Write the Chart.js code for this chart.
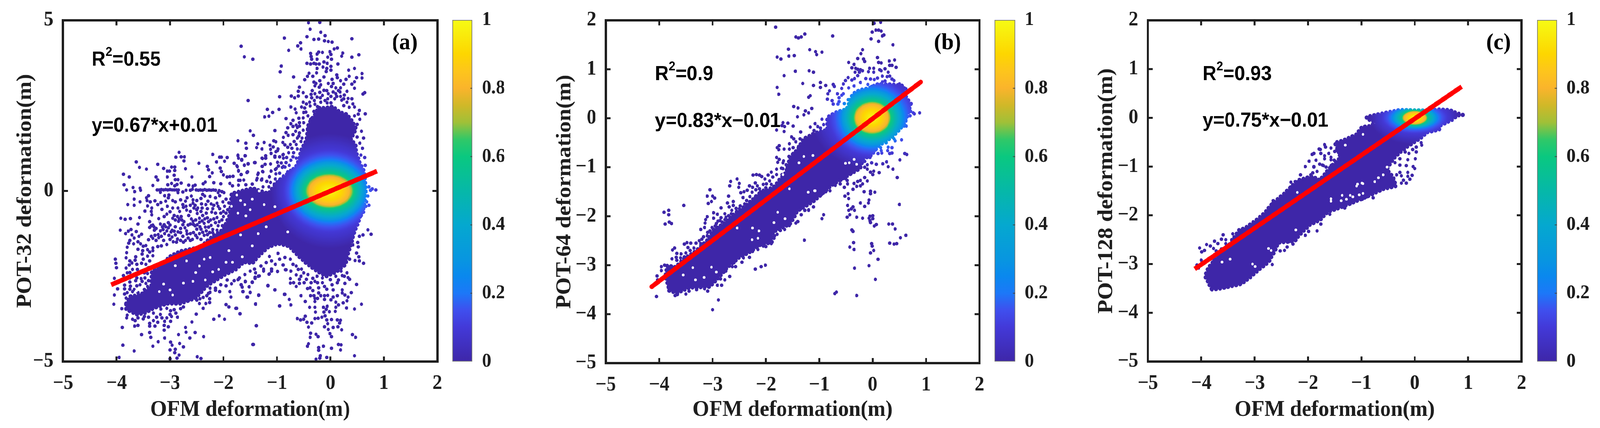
<!DOCTYPE html>
<html>
<head>
<meta charset="utf-8">
<title>POT vs OFM deformation</title>
<script src="https://cdn.jsdelivr.net/npm/chart.js@4"></script>
<style>
  html, body { margin: 0; padding: 0; background: #fff; overflow: hidden; }
  #page { position: relative; width: 4342px; height: 1095px; overflow: hidden; transform-origin: 0 0; }
  canvas { position: absolute; top: 0; }
</style>
</head>
<body>
<div id="page"></div>
<script>
// Axis ticks
const xTicks = [-5, -4, -3, -2, -1, 0, 1, 2];
const yTicksA = [-5, 0, 5];
const yTicksB = [-5, -4, -3, -2, -1, 0, 1, 2];
const yTicksC = [-5, -4, -3, -2, -1, 0, 1, 2];
const barTicks = [0, 0.2, 0.4, 0.6, 0.8, 1];

// Colour scale of the density
const barStops = [0, 0.05, 0.1, 0.15, 0.2, 0.25, 0.3, 0.4, 0.5, 0.6, 0.65, 0.7, 0.75, 0.8, 0.85, 0.9, 1];
const barColors = ['#3e26a8', '#4030c0', '#4339d8', '#3f4fee', '#1c78f8', '#0a88ee', '#0896e0', '#05a8cf', '#06b8a8', '#0ac880', '#30c868', '#a0c038', '#d0b828', '#fab42c', '#fdc51c', '#fdd600', '#f6fb14'];

// Fit lines, read at their two ends
const fitA = [[-4.1, -2.75], [0.87, 0.58]];
const fitB = [[-4.14, -3.44], [0.9, 0.74]];
const fitC = [[-4.12, -3.1], [0.88, 0.64]];

// Density contours: level, half width and half height in metres around the centre
const coreLevels = [0, 0.1, 0.2, 0.4, 0.6, 0.8, 0.9, 1];
const coreCentreA = [-0.02, 0];
const coreRxA = [1.1, 0.85, 0.71, 0.6, 0.46, 0.38, 0.24, 0];
const coreRyA = [1.7, 1.2, 0.94, 0.76, 0.52, 0.42, 0.26, 0];
const coreCentreB = [-0.01, 0.01];
const coreRxB = [1.15, 0.8, 0.62, 0.5, 0.36, 0.3, 0.18, 0];
const coreRyB = [1.05, 0.78, 0.62, 0.49, 0.345, 0.28, 0.17, 0];
const coreCentreC = [0, 0];
const coreRxC = [0.85, 0.6, 0.45, 0.35, 0.24, 0.2, 0.12, 0];
const coreRyC = [0.55, 0.32, 0.23, 0.19, 0.15, 0.12, 0.08, 0];

// Outline of the solid part of each cloud
const cloudA = [[-3.82,-3.3],[-3.74,-3.09],[-3.55,-3.05],[-3.35,-2.81],[-3.34,-2.37],[-3.18,-2.21],[-3.01,-1.93],[-2.81,-1.77],[-2.44,-1.65],[-2.2,-1.33],[-2,-1.13],[-1.88,-0.69],[-1.85,-0.08],[-1.46,0.08],[-1.16,-0.08],[-0.97,0.3],[-0.8,0.5],[-0.65,0.7],[-0.59,0.9],[-0.54,1.24],[-0.45,1.47],[-0.41,1.97],[-0.29,2.24],[-0.23,2.43],[-0.11,2.43],[0.05,2.47],[0.17,2.31],[0.31,2.24],[0.42,2.01],[0.48,1.82],[0.38,1.51],[0.47,1.36],[0.48,1.13],[0.54,0.86],[0.63,0.56],[0.66,0],[0.62,-0.5],[0.54,-0.82],[0.45,-1.2],[0.38,-1.58],[0.32,-1.89],[0.28,-2.16],[0.1,-2.38],[-0.08,-2.5],[-0.27,-2.33],[-0.45,-2.12],[-0.61,-1.89],[-0.77,-1.62],[-0.98,-1.54],[-1.16,-1.64],[-1.33,-1.89],[-1.46,-2.12],[-1.62,-2.08],[-1.76,-2.29],[-1.97,-2.45],[-2.3,-2.77],[-2.52,-3.14],[-2.81,-3.3],[-3.06,-3.3],[-3.28,-3.42],[-3.48,-3.58],[-3.63,-3.62],[-3.82,-3.46]];
const cloudB = [[-3.81,-3.52],[-3.67,-3.57],[-3.44,-3.46],[-3.05,-3.44],[-2.86,-3.22],[-2.72,-3.04],[-2.49,-2.83],[-2.33,-2.75],[-2.12,-2.59],[-1.89,-2.53],[-1.87,-2.32],[-1.55,-2.16],[-1.48,-2.03],[-1.41,-1.89],[-1.13,-1.71],[-1.04,-1.63],[-0.76,-1.36],[-0.44,-1.15],[-0.23,-1.02],[-0.18,-0.83],[-0.02,-0.75],[0.11,-0.56],[0.37,-0.38],[0.6,-0.11],[0.65,0.05],[0.71,0.29],[0.62,0.45],[0.58,0.66],[0.37,0.69],[0.07,0.69],[-0.07,0.61],[-0.23,0.58],[-0.37,0.5],[-0.42,0.37],[-0.49,0.18],[-0.67,0.13],[-0.85,0.02],[-0.85,-0.24],[-1.08,-0.3],[-1.29,-0.42],[-1.41,-0.64],[-1.55,-0.8],[-1.62,-1.1],[-1.85,-1.4],[-2.15,-1.55],[-2.26,-1.68],[-2.42,-1.82],[-2.61,-1.97],[-2.79,-2.16],[-2.98,-2.27],[-3.09,-2.48],[-3.32,-2.72],[-3.55,-2.88],[-3.69,-3.04],[-3.85,-3.01],[-3.88,-3.2],[-3.85,-3.36]];
const cloudC = [[-3.8,-3.52],[-3.68,-3.51],[-3.42,-3.45],[-3.26,-3.41],[-3.09,-3.28],[-2.94,-3.13],[-2.74,-2.96],[-2.65,-2.79],[-2.55,-2.56],[-2.25,-2.53],[-2.15,-2.39],[-1.96,-2.19],[-1.78,-2.1],[-1.63,-1.93],[-1.47,-1.87],[-1.21,-1.76],[-0.9,-1.62],[-0.59,-1.46],[-0.35,-1.4],[-0.4,-1.23],[-0.52,-1.06],[-0.44,-0.9],[-0.35,-0.78],[-0.18,-0.62],[0.13,-0.4],[0.22,-0.3],[0.46,-0.24],[0.49,-0.15],[0.7,-0.04],[0.8,0.05],[0.9,0.06],[0.8,0.09],[0.65,0.16],[0.46,0.17],[0.18,0.15],[-0.28,0.16],[-0.56,0.1],[-0.9,0.02],[-0.9,-0.02],[-0.71,-0.1],[-0.85,-0.17],[-0.99,-0.19],[-1.09,-0.34],[-1.21,-0.4],[-1.35,-0.47],[-1.5,-0.51],[-1.38,-0.81],[-1.57,-1],[-1.78,-1.28],[-1.93,-1.2],[-2.18,-1.28],[-2.32,-1.42],[-2.45,-1.56],[-2.67,-1.76],[-2.82,-1.96],[-2.97,-2.1],[-3.19,-2.27],[-3.29,-2.3],[-3.46,-2.59],[-3.6,-2.7],[-3.88,-3.1],[-3.93,-3.25]];

// White holes inside the solid clouds
const holesA = [[-3.12,-2.73],[-2.57,-2.65],[-2.52,-2.39],[-2.69,-2.05],[-2.36,-2],[-2.9,-2.19],[-1.65,-1.93],[-1.46,-1.61],[-1.04,-0.46],[-1.68,-1.29],[-1.24,-0.4],[-1.73,-0.65],[-1.58,-0.73],[-1.68,-0.28],[-1.46,-0.24],[-1.75,-0.12],[-1.33,0],[-3.63,-2.93],[-1.95,-2.09],[-1.83,-2.09],[-2.09,-2.3],[-2.2,-2.37],[-2.34,-2.61],[-1.6,-0.4],[-1.85,-0.45],[-1.5,-0.55],[-3.2,-2.95],[-3.0,-2.9],[-2.75,-2.7],[-2.95,-3.05],[-2.45,-2.2],[-2.25,-1.95],[-1.9,-1.75],[-1.35,-1.25],[-1.2,-1.05],[-0.8,-1.2]];
const holesB = [[-3.37,-3.05],[-3.02,-3.04],[-2.93,-3.14],[-3.16,-3.25],[-3.32,-3.3],[-3.55,-3.2],[-2.26,-2.48],[-2.15,-2.45],[-1.78,-1.92],[-1.85,-2.13],[-1.64,-2.05],[-2.25,-2.24],[-2.54,-2.24],[-1.56,-1.44],[-1.08,-1.48],[-2.13,-2.3],[-1.12,-0.76],[-1.29,-0.78],[-1.38,-0.91],[-1.68,-1.15],[-0.51,-0.92],[-0.44,-0.91],[-1.21,-1.51],[-1.09,-1.48],[-0.3,-0.94],[-0.35,-0.84]];
const holesC = [[-3.46,-2.9],[-3.61,-2.96],[-3.04,-3],[-2.99,-3.05],[-2.74,-2.68],[-2.69,-2.72],[-2.2,-1.53],[-2.23,-2.3],[-1.57,-1.66],[-1.36,-1.59],[-1.21,-1.59],[-1.07,-1.36],[-0.99,-1.34],[-0.97,-0.34],[-1.3,-0.56],[-0.75,-1.31],[-0.68,-1.23],[-0.59,-1.17],[-0.52,-1.01],[-1.09,-1.4],[-0.97,-1.35],[-1.57,-1.71],[-1.38,-1.7],[-1.28,-1.67],[-1.16,-1.62],[-1.04,-1.58],[-0.97,-1.55]];

// Single points, panel (a)
const dotsA = [[-0.41,4.93],[-0.2,4.94],[-0.38,4.74],[-0.18,4.65],[-0.1,4.55],[-0.44,4.52],[-0.31,4.44],[-0.22,4.45],[-0.11,4.4],[-0.04,4.38],[0.03,4.36],[0.4,4.46],[-0.86,4.48],[-0.56,4.34],[-0.61,4.25],[-0.55,4.16],[-0.78,4.12],[-1.67,4.24],[-1.61,3.93],[-1.45,3.86],[0.13,4.19],[0.07,4.16],
[-0.37,4.03],[-0.36,3.94],[-0.35,3.86],[-0.25,4.01],[-0.22,4.07],[-0.15,4.06],[-0.01,4.08],[0.01,4],[-0.05,3.92],[0.02,3.86],[0.23,4.04],[0.21,3.95],[0.4,3.92],[0.53,3.99],
[-0.44,3.74],[-0.37,3.72],[-0.31,3.74],[-0.27,3.72],[-0.21,3.72],[-0.25,3.86],[-0.25,3.59],[-0.12,3.78],[-0.06,3.74],[-0.14,3.63],[-0.07,3.59],[-0.08,3.5],[0.01,3.65],[0.01,3.54],[0.14,3.72],[0.34,3.54],[0.45,3.59],
[-0.94,3.49],[-0.92,3.66],[-0.69,3.34],[-0.4,3.45],[-0.43,3.36],[-0.33,3.36],[-0.26,3.46],[-0.48,3.26],[-0.12,3.34],[0.12,3.4],[0.13,3.32],[0.19,3.23],[0.29,3.27],[0.35,3.36],[0.49,3.32],[0.59,3.44],[0.59,3.31],[0.45,3.2],[0.4,3.13],[0.45,3.01],[0.25,3.13],
[-0.31,3.19],[-0.27,3.15],[-0.2,3.23],[-0.18,3.11],[-0.29,3.08],[-0.21,3.04],[-0.04,3.15],[0.03,3.27],[0.05,3.15],[0.02,3.06],[0.1,3.02],[0.19,3.02],[0.15,2.94],
[-0.58,3.04],[-0.6,2.92],[-0.51,2.88],[-0.6,2.78],[-0.73,2.78],[-0.67,2.73],[-0.95,2.76],[-0.45,2.76],[-1.54,2.65],
[-0.34,2.94],[-0.36,2.83],[-0.29,2.85],[-0.35,2.73],[-0.2,2.89],[-0.19,2.73],[-0.18,2.6],[-0.07,2.94],[-0.04,2.85],[-0.05,2.7],[0.01,2.77],[-0.06,2.58],[0.01,2.58],[0.31,2.92],[0.26,2.81],[0.33,2.71],[0.12,2.77],[0.19,2.77],[0.21,2.66],[0.31,2.6],[0.08,2.7],[0.61,2.84],[0.64,2.88],
[-0.51,2.6],[-0.39,2.6],[-0.38,2.49],[-0.29,2.54],[-0.54,2.46],[-0.74,2.46],[-0.66,2.4],[-0.64,2.29],[-0.48,2.43],[-0.46,2.31],[-0.31,2.33],[-0.24,2.47],[0.45,2.46],[0.54,2.36],[0.65,2.26],
[-0.96,2.39],[-1.18,2.39],[-1.08,2.3],[-1.15,2.19],[-1.23,2.17],[-0.83,2.12],[-0.59,2.13],[-0.51,2.14],[-0.37,2.1],[-0.7,2.07],[-0.74,1.97],[-0.7,1.89],[-0.64,1.93],[-0.62,1.86],[-0.8,1.85],[-1.04,1.77],[-1.5,1.76],[-1.44,1.63],[-0.51,1.78],[-0.43,1.82],
[-0.83,1.71],[-0.88,1.57],[-0.79,1.63],[-0.7,1.65],[-0.58,1.7],[-0.59,1.61],[-0.53,1.55],[0.58,1.75],[0.62,1.55],[0.5,1.58],[0.55,1.4],[0.6,1.25],[0.57,1.05],[0.64,0.98],[0.65,0.75],[0.62,0.62],
[-1.73,1.47],[-1.58,1.4],[-1.57,1.25],[-1.36,1.38],[-1.38,1.27],[-1.24,1.42],[-1.28,1.23],[-1.06,1.47],[-1.02,1.44],[-0.89,1.42],[-1.13,1.34],[-1.07,1.29],[-1.12,1.22],[-0.98,1.23],[-1.02,1.15],[-1.11,1.1],[-1.04,1.02],[-0.75,1.36],[-0.64,1.36],[-0.62,1.23],[-0.69,1.12],[-0.88,1.07],[-0.88,0.96],[-0.64,0.96],
[-1.73,1.03],[-1.6,1.03],[-1.66,0.92],[-1.21,1.03],[-1.28,0.96],[-1.21,0.96],[-1.54,0.8],[-1.61,0.76],[-1.41,0.83],[-1.22,0.78],[-1.28,0.72],[-1.12,0.79],[-0.99,0.84],[-0.97,0.73],[-0.83,0.83],[-0.74,0.9],[-0.77,0.75],[-1.74,0.71],[-1.72,0.58],[-1.55,0.56],[-1.27,0.57],[-1.35,0.52],[-1.11,0.58],[-1.03,0.63],[-0.9,0.69],[-1.67,0.48],[-1.69,0.31],[-1.14,0.41],[-0.95,0.52],[-0.88,0.44],[-0.8,0.56],[-1.37,0.37],[-1.28,0.35],[-1.03,0.35],[-0.96,0.29],
[0.7,-1.14],[0.76,-1.27],[0.61,-1.29],[0.54,-1.33],[0.51,-0.99],[0.51,-1.51],[0.52,-1.64],[0.49,-1.82],[0.53,-1.93],[0.46,-2.04],[0.54,-2.05],[0.62,-2.12],[0.35,-1.7],[0.36,-2],[0.42,-1.58],[0.72,0.12],[0.75,0.02],[0.78,0.06],[0.85,0.03],[0.7,-0.15],[0.72,-0.42],[0.66,-0.45],[0.62,-0.62],[0.58,-0.72],[0.68,-0.32],
[0.31,-2.4],[0.26,-2.5],[0.33,-2.54],[0.36,-2.59],[0.27,-2.71],[0.13,-2.69],[0.49,-2.74],[0.22,-2.48],[0.15,-2.61],[-0.22,-2.84],[-0.11,-2.8],[-0.07,-2.88],[0.03,-2.75],[0.05,-2.9],[0.22,-2.9],[0.39,-2.98],[-0.33,-2.92],[-0.38,-2.84],[-0.45,-2.59],[-0.49,-2.69],[-0.43,-2.86],[-0.36,-2.69],[-0.29,-2.65],[-0.33,-2.56],[-0.24,-2.69],[-0.15,-2.69],
[-0.75,-2.57],[-0.75,-2.7],[-0.69,-2.69],[-0.58,-2.71],[-0.64,-2.8],[-0.58,-2.59],[-0.64,-2.46],[-0.74,-2.35],[-0.54,-2.29],[-0.83,-2.31],[-0.99,-2.36],[-1.1,-2.29],[-1.15,-2.44],[-1.25,-2.29],[-1.25,-2.35],[-1.1,-2.35],[-1.14,-1.92],[-0.98,-1.83],[-0.88,-2.17],[-0.64,-2.2],
[-1.35,-2.5],[-1.41,-2.56],[-1.46,-2.68],[-1.59,-2.66],[-1.52,-2.81],[-1.5,-2.98],[-1.63,-2.95],[-1.55,-3.11],[-1.34,-3.06],[-1.67,-2.75],[-1.72,-2.59],[-1.65,-2.82],[-1.17,-2.78],[-1.04,-2.9],[-0.86,-3.03],[-0.77,-3.18],[-1.4,-3.32],[-0.95,-3.37],[-0.74,-3.34],[-0.55,-3.07],[-0.47,-3.24],[-1.69,-3.6],[-1.75,-3.44],
[-0.37,-3.07],[-0.31,-3.07],[-0.29,-3.15],[-0.29,-3.24],[-0.24,-3.15],[-0.22,-2.99],[-0.18,-3.07],[-0.11,-3.07],[-0.05,-3.06],[-0.11,-3.18],[0.01,-3.19],[0.05,-3.11],[0.13,-3.07],[0.22,-2.99],[0.27,-3.05],[0.33,-3.11],[0.31,-3.22],[0.24,-3.28],[0.1,-3.26],[0.15,-3.34],[0.1,-3.41],[0.09,-3.53],[0.3,-3.43],[0.45,-3.46],[0.58,-3.32],
[-0.39,-3.41],[-0.29,-3.41],[-0.28,-3.55],[-0.13,-3.41],[-0.06,-3.38],[-0.08,-3.47],[-0.12,-3.55],[-0.02,-3.54],[-0.1,-3.66],[-0.16,-3.7],[-0.29,-3.74],[-0.23,-3.73],[-0.07,-3.78],[0.02,-3.77],[0.13,-3.78],[0.19,-3.79],[0.17,-3.87],[-0.62,-3.74],[-0.56,-3.78],[-0.47,-3.67],[-0.5,-3.76],[-0.44,-3.85],[-0.35,-3.87],[-0.41,-3.99],[-0.05,-3.89],[-0.11,-3.98],[0.05,-4],[0.14,-3.98],[-0.04,-4.06],[0.21,-4.07],[-1.38,-3.95],[-0.01,-4.18],[0.02,-4.27],[-0.37,-4.17],[-0.27,-4.2],[-0.23,-4.27],[-0.38,-4.29],[0.41,-4.21],[0.47,-4.29],[-1.44,-4.5],[-0.41,-4.48],[-0.43,-4.55],[-0.22,-4.59],[-0.22,-4.67],[-0.13,-4.55],[0.02,-4.61],[0.15,-4.5],[0.2,-4.51],[0.19,-4.66],[-0.19,-4.83],[-0.2,-4.9],[-0.27,-4.93],[-0.07,-4.88],[0.45,-4.83],
[-2.83,1.13],[-2.89,0.99],[-2.79,1],[-2.73,1],[-2.74,0.88],[-3.63,0.85],[-3.57,0.69],[-3.44,0.64],[-3.23,0.78],[-3.12,0.66],[-3.05,0.58],[-3.01,0.58],[-2.97,0.7],[-2.91,0.7],[-2.91,0.6],[-2.71,0.65],[-2.46,0.81],[-2.2,1.07],[-2.07,0.99],[-2.04,0.99],[-1.93,0.98],[-2.13,0.85],[-1.98,0.87],[-1.73,1.05],[-1.59,1.03],[-1.72,0.96],[-1.66,0.9],[-1.8,0.81],[-1.75,0.74],[-1.72,0.6],[-1.61,0.75],[-1.54,0.79],[-1.42,0.83],[-2.3,0.72],[-2.28,0.62],[-2.21,0.53],[-2.06,0.67],[-2.04,0.57],[-2,0.47],[-1.93,0.41],[-1.88,0.42],[-1.82,0.43],[-1.67,0.48],[-1.72,0.31],[-1.62,0.32],[-1.56,0.54],
[-3.87,0.49],[-3.76,0.41],[-3.86,0.18],[-3.81,0.03],[-3.69,0.1],[-3.66,-0.02],[-3.56,0.08],[-3.55,0.02],[-3.26,0.41],[-3.23,0.32],[-3.05,0.41],[-2.92,0.46],[-2.9,0.33],[-2.85,0.33],[-2.59,0.41],[-2.26,0.42],[-3.32,0.16],[-3.04,0.18],[-2.97,0.22],[-2.91,0.15],[-2.87,0.19],[-2.79,0.23],[-2.65,0.17],[-2.57,0.14],[-2.53,0.17],[-2.34,0.26],[-2.38,0.21],[-2.18,0.24],[-2.05,0.21],[-1.88,0.22],[-1.83,0.15],[-1.72,0.17],[-1.58,0.18],
[-3.24,0.03],[-3.2,0.03],[-3.16,0.04],[-3.12,0.03],[-3.08,0.04],[-3.04,0.03],[-3,0.04],[-2.96,0.03],[-2.92,0.03],[-2.88,0.03],[-2.84,0.03],[-3.18,-0.04],[-2.85,-0.05],[-2.76,-0.03],[-2.7,0.02],[-2.62,0.02],[-2.58,0.05],[-2.51,0.03],[-2.47,0.02],[-2.43,0.03],[-2.39,0.02],[-2.35,0.04],[-2.31,0.02],[-2.27,0.03],[-2.23,0.02],[-2.19,0.03],[-2.15,0.02],[-2.08,0.01],[-2.03,-0.02],[-1.99,-0.05],
[-3.4,-0.14],[-3.44,-0.2],[-3.43,-0.28],[-3.67,-0.24],[-3.56,-0.32],[-3.79,-0.4],[-3.67,-0.42],[-3.37,-0.32],[-3.28,-0.29],[-3.17,-0.34],[-3.23,-0.4],[-3.1,-0.14],[-3.02,-0.12],[-3.03,-0.2],[-3.08,-0.3],[-2.95,-0.28],[-2.9,-0.32],[-2.8,-0.26],[-2.71,-0.3],[-2.76,-0.4],[-2.75,-0.48],[-2.57,-0.26],[-2.57,-0.36],[-2.53,-0.42],[-2.48,-0.5],[-2.41,-0.38],[-2.33,-0.4],[-2.29,-0.3],[-2.23,-0.38],[-2.25,-0.16],[-2.15,-0.2],[-2.12,-0.36],[-2.07,-0.14],[-2.01,-0.32],[-1.95,-0.24],[-2.39,-0.1],
[-3.42,-0.44],[-3.34,-0.5],[-3.35,-0.6],[-3.34,-0.7],[-3.47,-0.59],[-3.15,-0.54],[-3,-0.61],[-3.06,-0.68],[-3.11,-0.75],[-2.92,-0.72],[-2.82,-0.6],[-2.86,-0.75],[-2.79,-0.75],[-2.69,-0.56],[-2.62,-0.6],[-2.65,-0.72],[-2.49,-0.66],[-2.42,-0.6],[-2.39,-0.72],[-2.3,-0.52],[-2.32,-0.65],[-2.3,-0.79],[-2.2,-0.52],[-2.07,-0.52],[-2.05,-0.65],
[-3.92,-0.8],[-3.84,-0.83],[-3.74,-0.81],[-3.57,-0.78],[-3.6,-0.97],[-3.93,-1.15],[-3.73,-1.13],[-3.78,-1.18],[-3.83,-1.25],[-3.71,-1.29],[-3.67,-1.38],[-3.63,-1.19],[-3.58,-1.33],[-3.53,-1.27],[-3.6,-1.49],
[-3.38,-0.9],[-3.32,-1],[-3.38,-1.07],[-3.29,-1.15],[-3.21,-0.81],[-3.18,-0.97],[-3.11,-0.99],[-3.03,-0.93],[-3.13,-1.13],[-3.18,-1.17],[-3.06,-1.17],[-2.96,-1.15],[-2.9,-1.05],[-2.84,-0.89],[-2.76,-0.99],[-2.69,-1.17],[-2.62,-1.25],[-2.57,-0.89],[-2.49,-0.99],[-2.62,-0.97],[-2.44,-1.05],[-2.39,-1.21],[-2.32,-1.17],[-2.2,-1.13],[-2.15,-0.93],[-2.23,-1.01],
[-3.4,-1.43],[-3.32,-1.39],[-3.26,-1.45],[-3.21,-1.37],[-3.16,-1.33],[-3.35,-1.33],[-2.9,-1.29],[-2.76,-1.33],[-2.86,-1.41],[-2.71,-1.45],[-2.62,-1.45],[-2.49,-1.37],[-2.94,-1.49],[-3.06,-1.57],[-3.16,-1.61],[-3.23,-1.63],[-3.32,-1.67],
[-3.77,-1.53],[-3.8,-1.65],[-3.81,-1.81],[-3.6,-1.71],[-3.5,-1.62],[-3.51,-1.75],[-3.52,-1.85],[-3.38,-1.79],[-3.42,-1.91],[-3.5,-2],[-3.64,-1.93],[-3.65,-2.03],[-3.82,-1.96],[-3.75,-2.05],[-3.71,-2.11],[-3.76,-2.17],[-3.53,-2.12],[-4.02,-2],[-4.01,-2.12],[-4,-2.25],[-3.82,-2.26],[-3.61,-2.3],[-3.56,-2.39],[-3.75,-2.39],[-3.42,-2.42],[-3.87,-2.48],[-4.04,-2.56],[-3.64,-2.63],[-3.54,-2.57],[-3.47,-2.55],[-3.4,-2.63],[-3.56,-2.75],[-3.45,-2.71],[-3.75,-2.67],[-3.74,-2.79],[-3.85,-2.76],[-3.98,-2.87],[-3.85,-2.87],[-3.67,-2.89],[-3.48,-2.89],[-4.04,-3.05],[-3.85,-3.02],[-3.82,-3.14],[-4.05,-3.32],[-3.9,-3.45],
[-3.8,-3.64],[-3.81,-3.72],[-3.7,-3.76],[-3.65,-3.8],[-3.66,-3.96],[-3.6,-3.94],[-3.89,-4],[-3.48,-3.68],[-3.31,-3.58],[-3.18,-3.62],[-3.17,-3.46],[-3.06,-3.44],[-2.99,-3.51],[-2.89,-3.58],[-2.86,-3.7],[-2.97,-3.68],[-3.06,-3.72],[-2.99,-3.82],[-3.1,-3.82],[-3.31,-3.8],[-3.23,-3.85],[-3.38,-3.88],[-3.38,-3.96],[-3.28,-3.96],[-3.11,-3.94],[-3.03,-3.98],[-3.11,-4.08],[-3.38,-4.15],[-3.36,-4.29],[-3.53,-4.21],[-3.1,-4.31],[-3.22,-4.42],[-3.32,-4.55],[-3.88,-4.52],[-3.67,-4.69],[-2.99,-4.43],[-2.96,-4.52],[-3,-4.66],[-2.9,-4.64],[-2.91,-4.74],[-2.83,-4.81],[-2.87,-4.9],[-3,-4.92],[-3.95,-4.88],[-2.82,-4.47],[-2.75,-4.57],[-2.84,-4.21],[-2.63,-4.31],[-2.53,-4.15],[-2.37,-4.27],[-2.71,-4],[-2.7,-4.14],[-2.59,-3.84],[-2.51,-3.61],[-2.49,-4.86],[-2.42,-4.91],[-2.18,-3.76],[-2.08,-3.66],[-1.98,-3.76],[-1.69,-3.6],[-1.77,-3.44],[-1.9,-3.4],[-1.95,-3.33],[-1.39,-3.95],[-1.45,-4.5],[-1.4,-3.31],[-0.95,-3.37],[-0.85,-3.03],[-1.04,-2.9],[-1.17,-2.77],[-2.38,-3.44],[-2.33,-3.3],[-2.26,-3.27],[-2.26,-3.16],[-2.31,-3.07],[-2.44,-3.16],[-2.5,-3.2],[-1.88,-2.95],[-1.86,-3.11],[-2.07,-2.95],[-2.15,-2.91],[-1.64,-2.95],[-1.5,-2.97],[-1.56,-3.11],[-1.34,-3.05],[-1.52,-2.81],[-1.59,-2.65],[-1.46,-2.67],[-1.67,-2.75],[-1.8,-2.63],[-1.93,-2.61],[-1.73,-2.6],[-1.33,-2.49],[-1.41,-2.53],[-1.14,-2.43],[-0.99,-2.36],[-1.1,-2.29],[-1.25,-2.33],[-1.42,-2.29],[-0.89,-2.17],[-0.84,-2.31],[-2.25,-2.97],[-2.25,-2.85],
[-1.46,0.2],[-1.36,0.48],[-1.26,0.56],[-1.38,0.32],[-1.29,0.32],[-1.19,0.28],[-1.26,0.12],[-1.15,0.12],[-1.27,0.72],[-1.21,0.96],[-1.11,0.58],[-1.14,0.42],[-1.01,0.66],[-0.99,0.84],[-0.88,0.72],[-1.04,0.99],[-1.27,0.95],[-1.11,1.1],[-0.89,1.06],[-0.99,1.18],
[-3.35,-1.02],[-3.3,-1.05],[-3.26,-1.1],[-3.14,-1.05],[-3.08,-1.05],[-3,-1],[-3.03,-1.08],[-2.98,-1.2],[-2.95,-0.8],[-2.9,-0.85],[-2.83,-0.82],[-2.78,-0.85],[-2.74,-0.9],[-2.8,-1.1],[-2.72,-1.08],[-2.66,-1],[-2.6,-0.82],[-2.56,-0.98],[-2.53,-1.02],[-2.52,-0.85],[-2.45,-0.92],[-2.45,-0.8],[-2.4,-0.88],[-2.36,-0.95],[-2.35,-0.82],[-2.28,-0.9],[-2.24,-0.85],[-2.18,-0.82],[-2.12,-0.78],[-2.08,-0.9],[-2.03,-0.85],[-2,-0.75],[-1.97,-0.98],[-1.92,-0.85],[-1.88,-0.9],[-2.1,-1.02],[-2.02,-1.02],[-1.95,-1.08],[-2.12,-1.15],[-2.28,-1.06],[-2.34,-1.06],[-2.42,-1.12],[-2.5,-1.12],[-2.56,-1.22],[-2.68,-1.26],[-2.8,-1.22],[-2.85,-1.2],[-2.92,-1.18],[-3.02,-1.3],[-3.1,-1.25],[-3.22,-1.28],[-3.28,-1.3],[-3.12,-1.45],[-3,-1.42],[-2.96,-1.35],[-2.88,-1.5],[-2.8,-1.45],[-2.75,-1.5],[-2.66,-1.38],[-2.58,-1.42],[-2.52,-1.3],[-2.45,-1.25],[-2.42,-1.42],[-2.36,-1.3],[-2.3,-1.28],[-2.26,-1.22],[-2.2,-1.22],
[-1.98,-0.45],[-1.92,-0.55],[-1.9,-0.35],[-1.95,-0.65],[-2,-0.6],[-2.1,-0.45],[-2.18,-0.42],[-2.22,-0.62],[-2.15,-0.65],[-2.4,-0.5],[-2.5,-0.55],[-2.55,-0.5],[-2.62,-0.42],[-2.7,-0.45],[-2.85,-0.5],[-2.95,-0.5],[-3.05,-0.45],[-2.68,-0.2],[-2.6,-0.15],[-2.5,-0.28],[-2.42,-0.22],[-2.35,-0.15],[-2.1,-0.05],
[-3.68,-1.55],[-3.75,-1.45],[-3.55,-1.55],[-3.45,-1.6],[-3.42,-1.72],[-3.32,-1.75],[-3.32,-1.9],[-3.38,-2.05],[-3.45,-2.15],[-3.4,-2.25],[-3.62,-2.15],[-3.7,-2.3],[-3.8,-2.4],[-3.68,-2.48],[-3.62,-2.55],[-3.48,-2.4],[-3.52,-2.65],[-3.62,-2.78],[-3.75,-2.88],[-3.8,-2.98],[-3.7,-2.95],[-3.6,-2.98],[-3.48,-2.98],[-3.42,-2.8],[-3.75,-2.55],[-3.9,-2.6],
[-3.75,-3.52],[-3.6,-3.72],[-3.5,-3.75],[-3.4,-3.7],[-3.25,-3.7],[-3.15,-3.72],[-3,-3.62],[-2.92,-3.48],[-2.8,-3.45],[-2.75,-3.4],[-2.65,-3.2],[-2.45,-3.3],[-2.38,-3.12],[-2.28,-3],[-2.15,-2.85],[-2.05,-2.75],[-1.95,-2.78],[-1.85,-2.72],[-1.7,-2.55],[-1.6,-2.45],[-1.5,-2.35],[-1.4,-2.4],[-1.3,-2.2],[-1.2,-2.1],[-1.1,-2.05],[-1.03,-2.15],[-0.95,-2],[-0.85,-1.95],[-0.75,-2],[-0.7,-2.15],[-0.6,-2.3],[-0.5,-2.4],[-0.42,-2.45],[-0.55,-2.5],[-0.25,-2.5],[-0.15,-2.55],[0,-2.6],[0.1,-2.5],[0.2,-2.35],
[-0.85,1.35],[-0.8,1.28],[-0.72,1.25],[-0.78,1.12],[-0.7,1],[-0.82,0.98],[-0.75,0.6],[-0.72,0.52],[-0.68,0.62],[-0.85,0.7],[-0.92,0.82],[-0.95,1],[-0.82,0.38],[-0.75,0.3],[-0.88,0.2],[-0.95,0.15],[-1.05,0.2],[-1.12,0.25],[-0.92,0.05],[-1.02,0.5],[-0.72,0.4],[-0.68,1.45],[-0.62,1.55],[-0.55,1.45],[-0.65,1.75],
[-0.25,2.75],[-0.15,2.8],[-0.12,2.95],[-0.3,2.65],[-0.1,2.65],[0.05,2.9],[0.1,2.85],[0.18,2.9],[0.25,2.7],[0.4,2.7],[0.42,2.55],[0.52,2.25],[0.55,2.1],[0.5,1.95],[0.45,2.2],[0.35,2.45],[0.25,2.5],[-0.45,2.55],[-0.5,2.3],[-0.42,2.2],[-0.58,2],[-0.5,2],[-0.58,1.9]];

// Single points, panel (b)
const dotsB = [[-1.82,1.86],[-1.44,1.66],[-1.39,1.64],[-1.34,1.66],[-1.27,1.72],[-0.75,1.68],[0.03,1.94],[0.15,1.96],[-0.01,1.76],[0.06,1.8],[0.11,1.8],[0.16,1.78],[0.18,1.68],[0.21,1.7],[-0.03,1.62],[0.11,1.57],[0.38,1.5],
[-1.58,1.41],[-1.18,1.4],[-1.07,1.36],[-1.05,1.3],[-0.95,1.35],[-1.57,1.27],[-1.47,1.28],[-1.79,1.25],[-1.72,1.21],[-0.19,1.4],[-0.22,1.32],[-0.28,1.22],[-0.17,1.21],[-0.15,1.16],[0.09,1.24],[0.11,1.14],[0.16,1.13],[0.31,1.17],[0.41,1.19],[-0.45,1.14],[-0.35,1.1],
[-1.45,0.96],[-1.19,0.97],[-1.11,0.94],[-1.66,0.87],[-0.39,1.03],[-0.32,1.02],[-0.28,1],[-0.23,0.99],[-0.19,0.97],[-0.33,0.94],[-0.25,0.94],[-0.08,0.95],[-0.06,1.02],[0.02,1.02],[0.02,0.94],[0.13,0.99],[0.16,0.97],[0.23,1.01],[0.29,0.94],[0.32,1.08],[0.36,1.08],[0.44,1.04],[-0.28,0.87],[-0.13,0.81],[-0.04,0.8],[0.03,0.79],[0.09,0.82],[0.18,0.86],[0.27,0.85],[0.32,0.86],[0.36,0.8],[0.4,0.77],[0.23,0.76],[0.18,0.74],
[-0.46,0.83],[-0.51,0.77],[-0.39,0.78],[-0.34,0.81],[-0.55,0.7],[-0.23,0.73],[-0.09,0.69],[-1.31,0.71],[-1.11,0.67],[-0.98,0.73],[-0.88,0.67],[-0.98,0.63],[-0.74,0.69],[-0.72,0.65],[-1.79,0.63],[-1.76,0.49],[-0.35,0.66],[-0.45,0.62],[-0.58,0.61],[-0.81,0.56],[-0.84,0.5],[-0.66,0.5],[-0.55,0.5],[-1.17,0.46],[-1.2,0.43],[-0.63,0.42],[-0.58,0.47],[-0.46,0.38],[-0.85,0.39],[-0.76,0.36],[-0.74,0.29],[-0.65,0.29],[-0.63,0.34],[-0.53,0.3],
[-1.48,0.24],[-1.4,0.21],[-1.14,0.2],[-1.26,0.15],[-1.2,0.11],[-1.29,0.07],[-1.41,0.03],[-0.95,-0.02],[0.76,0.11],[0.71,0.14],[0.78,0.09],[0.88,0.11],[0.66,0.15],[0.59,-0.16],[0.63,-0.16],[0.42,-0.46],[0.54,-0.44],[0.68,0.24],[0.72,0.3],[0.7,0.05],[0.62,0.6],[0.5,0.7],[0.15,0.7],[-0.02,0.65],[0.6,-0.03],
[-1.68,-0.09],[-1.59,-0.1],[-1.7,-0.15],[-1.65,-0.17],[-1.49,-0.16],[-1.8,-0.24],[-1.66,-0.27],[-1.35,-0.28],[-1.17,-0.18],[-1.08,-0.11],[-1.1,-0.25],[-1.03,-0.17],[-0.98,-0.2],[-0.92,-0.13],
[-1.52,-0.38],[-1.48,-0.42],[-1.44,-0.48],[-1.36,-0.42],[-1.56,-0.52],[-1.75,-0.56],[-1.79,-0.6],[-1.76,-0.64],[-1.66,-0.63],[-1.56,-0.63],[-1.49,-0.6],[-1.39,-0.58],[-1.33,-0.54],[-1.49,-0.72],[-1.49,-0.78],[-1.57,-0.78],[-1.8,-0.8],[-1.75,-0.84],[-1.78,-0.9],[-1.67,-0.87],[-1.68,-0.91],[-1.57,-0.88],[-1.5,-0.86],[-1.71,-1.02],[-1.8,-1.04],[-1.68,-1.03],[-1.6,-1],[-1.9,-1.1],
[0.29,-0.59],[0.36,-0.6],[0.28,-0.66],[0.32,-0.72],[0.36,-0.71],[0.6,-0.72],[0.64,-0.74],[0.16,-0.66],[0.17,-0.71],[0.1,-0.72],[0.51,-0.85],[0.19,-0.93],[0.26,-0.89],[0.29,-0.99],[0.38,-1.04],[0.07,-0.94],[-0.02,-0.91],[-0.1,-0.95],[-0.15,-1],[-0.1,-1.04],[0.02,-1.08],[-0.04,-1.1],[0,-1.15],[0.12,-1.11],[0.46,-1.21],[-0.15,-1.21],[-0.1,-1.28],[-0.23,-1.27],[-0.28,-1.29],[-0.19,-1.34],[-0.23,-1.38],[-0.3,-1.39],[-0.35,-1.33],[-0.47,-1.34],[-0.51,-1.23],[-0.48,-1.27],[-0.59,-1.26],[-0.61,-1.34],[-0.7,-1.37],[-0.53,-1.41],[-0.37,-1.45],[-0.16,-1.5],[-0.04,-1.49],[-0.04,-1.54],[0.04,-1.51],[-0.46,-1.54],[-0.52,-1.59],[-0.45,-1.64],[-0.07,-1.67],[-0.08,-1.73],[-0.23,-1.73],[-0.15,-1.8],[0.5,-1.76],[-0.47,-1.78],[-0.37,-1.81],[-0.4,-1.85],[-0.45,-1.88],[-0.34,-1.88],[-0.43,-1.97],[-0.48,-2.02],[-0.3,-2.02],[-0.19,-2.04],[-0.07,-2.04],[-0.05,-2],[0,-1.99],[0,-2.05],[-0.05,-2.09],[-0.04,-2.13],[0.07,-2.17],[0.03,-2.2],[0.3,-2.16],[0.37,-2.16],[0.42,-2.26],[-0.39,-2.28],[-0.37,-2.31],[0.62,-2.39],[0.52,-2.44],[0.32,-2.55],[0.4,-2.57],[0.45,-2.56],[-0.02,-2.56],[-0.01,-2.61],[-0.36,-2.54],[-0.43,-2.63],[-0.35,-2.68],[0.02,-2.7],[-0.04,-2.75],[0.1,-2.88],[-0.07,-3.01],[-0.34,-3.06],[0.05,-3.29],[-0.68,-3.55],[-0.71,-3.58],[-0.3,-3.62],[-1.28,-2.49],[-0.92,-1.97],[-0.95,-2.05],[-1.11,-1.81],[-1.2,-1.87],[-1.27,-1.88],[-1.25,-1.77],[-1.18,-1.7],[-1.34,-1.97],[-1.4,-2.11],[-1.44,-2.14],[-1.56,-2.19],[-1.65,-2.27],[-0.88,-1.5],[-0.8,-1.48],
[-3.91,-1.92],[-3.82,-1.88],[-3.82,-1.97],[-3.81,-2.12],[-3.89,-2.16],[-3.77,-2.15],[-3.54,-1.78],[-3.05,-1.46],[-3.1,-1.59],[-3,-1.59],[-2.96,-1.63],[-3.02,-1.7],[-3.08,-1.74],[-2.66,-1.29],[-2.54,-1.24],[-2.5,-1.33],[-2.68,-1.38],[-2.51,-1.41],[-2.7,-1.59],[-2.47,-1.52],[-2.41,-1.5],[-2.35,-1.47],[-2.43,-1.62],[-2.3,-1.6],[-2.26,-1.51],[-2.31,-1.38],[-2.25,-1.41],[-2.19,-1.46],[-2.2,-1.32],[-2.16,-1.38],[-2.12,-1.44],[-2.24,-1.16],[-2.18,-1.15],[-2.12,-1.16],[-2.08,-1.19],[-2.02,-1.24],[-1.96,-1.16],[-2.05,-1.35],[-1.99,-1.34],[-1.93,-1.28],[-1.87,-1.2],[-1.8,-1.15],[-2.05,-1.47],[-1.93,-1.47],[-2.36,-1.68],[-2.61,-1.7],[-2.72,-1.73],[-2.61,-1.78],[-2.69,-1.81],[-2.84,-1.83],[-2.48,-1.79],[-2.56,-1.84],[-2.64,-1.88],[-2.98,-1.93],[-2.91,-1.96],[-2.77,-1.95],[-2.7,-1.99],[-3.1,-2.01],[-3.13,-2.07],[-2.98,-2.04],[-2.84,-2.03],[-2.86,-2.09],[-2.77,-2.07],[-2.7,-2.08],[-3.14,-2.14],[-3.15,-2.23],[-2.93,-2.15],[-2.78,-2.16],[-3.01,-2.23],[-3.22,-2.27],[-3.09,-2.33],[-3.17,-2.42],[-3.2,-2.47],[-3.53,-2.57],[-3.48,-2.54],[-3.41,-2.55],[-3.31,-2.55],[-3.46,-2.64],[-3.22,-2.56],[-3.71,-2.65],[-3.75,-2.69],[-3.67,-2.76],[-3.59,-2.77],[-3.68,-2.84],[-3.76,-2.87],[-3.67,-2.9],[-3.53,-2.83],[-3.96,-3.03],[-3.9,-3],[-3.96,-3.11],[-4.04,-3.22],[-4.03,-3.3],
[-4.05,-3.64],[-2.89,-3.71],[-3,-3.91],[-3.5,-3.59],[-3.66,-3.6],[-3.44,-3.53],[-3.09,-3.53],[-2.91,-3.41],[-2.83,-3.41],[-2.77,-3.3],[-2.68,-3.23],[-3.02,-3.26],[-2.96,-3.33],[-2.63,-3.03],[-2.57,-3.03],[-2.45,-2.94],[-2.2,-3.08],[-2.09,-3.03],[-2.01,-3],[-2.31,-2.84],[-2.16,-2.63],[-2.05,-2.61],[-1.9,-2.56],[-1.41,-2.11],[-1.27,-1.88],[-1.2,-1.88],[-1.18,-1.71],[-1.04,-1.64],[-1.73,-2.29],[-1.79,-2.37],[-1.84,-2.4],[-1.94,-2.48],
[-3.6,-2.85],[-3.5,-2.75],[-3.42,-2.7],[-3.35,-2.65],[-3.25,-2.5],[-3.1,-2.4],[-3.05,-2.3],[-2.95,-2.2],[-2.9,-2.1],[-2.82,-2.12],[-2.75,-2.02],[-2.65,-1.95],[-2.55,-1.9],[-2.5,-1.85],[-2.4,-1.75],[-2.3,-1.7],[-2.2,-1.62],[-2.1,-1.5],[-2,-1.42],[-1.9,-1.35],[-1.75,-1.25],[-1.7,-1.15],[-1.62,-0.95],[-1.45,-0.72],[-1.38,-0.66],[-1.3,-0.58],[-1.2,-0.48],[-1.1,-0.4],[-1,-0.35],[-0.95,-0.28],
[-3.7,-3.62],[-3.3,-3.5],[-3.15,-3.48],[-3,-3.35],[-2.85,-3.28],[-2.75,-3.12],[-2.6,-2.95],[-2.42,-2.85],[-2.25,-2.72],[-2.15,-2.68],[-2,-2.62],[-1.85,-2.45],[-1.75,-2.25],[-1.6,-2.12],[-1.5,-2.08],[-1.35,-1.85],[-1.25,-1.72],[-1.1,-1.65],[-0.95,-1.55],[-0.85,-1.42],[-0.7,-1.3],[-0.55,-1.2],[-0.4,-1.12],[-0.3,-1.05],[-0.15,-0.88],[-0.05,-0.8],[0.05,-0.65],[0.15,-0.6],[0.25,-0.5],[0.4,-0.42]];

// Single points, panel (c)
const dotsC = [[-1.89,-0.73],[-1.77,-0.65],[-1.67,-0.6],[-1.57,-0.62],[-1.47,-0.67],[-1.41,-0.77],[-1.76,-0.73],[-1.61,-0.73],[-1.85,-0.87],[-1.69,-0.84],[-1.57,-0.81],[-1.51,-0.87],[-1.78,-0.95],[-1.66,-1.01],[-1.57,-0.98],[-1.89,-1.01],[-1.83,-1.1],[-1.64,-1.1],[-1.71,-0.98],[-1.91,-1.13],
[-1.69,-0.55],[-1.79,-0.64],[-1.92,-0.75],[-1.98,-0.89],[-2.05,-1],[-1.89,-1],[-1.69,-0.78],[-1.57,-0.86],[-2.14,-1.17],[-2.24,-1.31],[-1.95,-1.17],[-2.33,-1.42],[-1.5,-0.69],[-1.73,-0.97],[-2.08,-1.25],
[-0.28,-0.84],[-0.18,-0.7],[-0.11,-0.73],[-0.04,-0.65],[0.03,-0.6],[0.03,-0.7],[0.12,-0.51],[0.13,-0.56],[-0.13,-0.86],[0.01,-0.84],[-0.16,-0.98],[-0.03,-1],[0,-1.04],[-0.28,-1.12],[-0.25,-1.19],[-0.13,-1.12],[-0.05,-1.18],[-0.13,-1.2],[-0.09,-1.26],[-0.21,-1.28],[-0.16,-1.34],[-0.25,-1.34],[-0.28,-0.97],[-0.37,-0.92],[-0.42,-1.26],[-0.34,-1.17],[-1.31,-1.85],[-0.71,-1.26],[-0.63,-1.27],[-0.78,-1.64],[-0.9,-1.62],[-1.21,-1.77],[-0.98,-1.67],[-1.35,-1.64],
[-2.32,-1.32],[-2.18,-1.3],[-2.34,-1.44],[-2.65,-1.7],[-2.67,-1.76],[-2.55,-1.69],[-2.49,-1.7],[-3.29,-2.3],[-3.25,-2.38],[-3.41,-2.38],[-3.37,-2.45],[-3.43,-2.5],[-3.59,-2.4],[-3.62,-2.49],[-3.54,-2.5],[-3.54,-2.58],[-3.75,-2.53],[-3.69,-2.58],[-3.46,-2.6],[-3.9,-2.6],[-3.83,-2.63],[-3.77,-2.68],[-4.03,-2.67],[-3.99,-2.75],[-3.94,-2.72],[-3.72,-2.73],[-3.62,-2.69],[-3.85,-2.89],[-4,-2.92],[-3.77,-2.9],[-4.08,-3.02],[-4.05,-3.08],[-3.92,-3.27],[-3.81,-3.42],[-3.51,-3.46],[-3.26,-3.4],[-2.72,-2.93],[-2.67,-3.01],[-2.52,-2.73],[-2.44,-2.72],[-2.39,-2.65],[-2.65,-2.76],[-2.36,-2.54],[-2.47,-2.53],[-2.28,-2.59],[-2.05,-2.41],[-1.99,-2.33],[-1.83,-2.32],[-1.92,-2.15],[-1.76,-2.18],[-1.59,-1.98],[-1.31,-1.8],[-1.21,-1.73],[-1.09,-1.6],[-0.99,-1.62],[-1.41,-1.76],[-1.49,-1.86]];

// Text inside the panels
const labelsA = { tag: '(a)', r2: '=0.55', fit: 'y=0.67*x+0.01' };
const labelsB = { tag: '(b)', r2: '=0.9', fit: 'y=0.83*x\u22120.01' };
const labelsC = { tag: '(c)', r2: '=0.93', fit: 'y=0.75*x\u22120.01' };

const DOT = '#3e26a8';
const INK = '#1e1e1e';
const SERIF = "'Liberation Serif', 'Times New Roman', serif";
const SANS = "'Liberation Sans', Arial, sans-serif";

// The browser window can be narrower than the reference, so squeeze the page to fit
const page = document.getElementById('page');
if (window.innerWidth < 4342) page.style.transform = `scaleX(${window.innerWidth / 4342})`;

function hexRgb(hex) {
  return [1, 3, 5].map(i => parseInt(hex.slice(i, i + 2), 16));
}

function colourAt(t) {
  let i = 0;
  while (i < barStops.length - 2 && t > barStops[i + 1]) i++;
  const f = Math.min(1, Math.max(0, (t - barStops[i]) / (barStops[i + 1] - barStops[i])));
  const a = hexRgb(barColors[i]), b = hexRgb(barColors[i + 1]);
  return `rgb(${a.map((v, k) => Math.round(v + (b[k] - v) * f)).join(',')})`;
}

function contourAt(list, t) {
  let i = 0;
  while (i < coreLevels.length - 2 && t > coreLevels[i + 1]) i++;
  const f = (t - coreLevels[i]) / (coreLevels[i + 1] - coreLevels[i]);
  return list[i] + (list[i + 1] - list[i]) * f;
}

function asPoints(list) {
  return list.map(p => ({ x: p[0], y: p[1] }));
}

const tickText = v => String(Number(v.toFixed(1))).replace('-', '\u2212');

// Frame with inward ticks on all four sides
const framePlugin = {
  id: 'frame',
  afterDraw(chart) {
    const { ctx, chartArea: a, scales: { x, y } } = chart;
    ctx.save();
    ctx.strokeStyle = INK;
    ctx.lineWidth = 5;
    x.ticks.forEach(t => {
      const px = x.getPixelForValue(t.value);
      ctx.beginPath();
      ctx.moveTo(px, a.bottom); ctx.lineTo(px, a.bottom - 13);
      ctx.moveTo(px, a.top); ctx.lineTo(px, a.top + 13);
      ctx.stroke();
    });
    y.ticks.forEach(t => {
      const py = y.getPixelForValue(t.value);
      ctx.beginPath();
      ctx.moveTo(a.left, py); ctx.lineTo(a.left + 13, py);
      ctx.moveTo(a.right, py); ctx.lineTo(a.right - 13, py);
      ctx.stroke();
    });
    ctx.lineWidth = 6;
    ctx.strokeRect(a.left, a.top, a.right - a.left, a.bottom - a.top);
    ctx.restore();
  }
};

// Density ellipses painted only over what the cloud and the points have already drawn
const corePlugin = {
  id: 'core',
  afterDatasetDraw(chart, args, opts) {
    if (args.index !== 0) return;
    const { ctx, chartArea: a, scales: { x, y } } = chart;
    const core = opts.core;
    ctx.save();
    ctx.beginPath();
    ctx.rect(a.left, a.top, a.right - a.left, a.bottom - a.top);
    ctx.clip();
    ctx.globalCompositeOperation = 'source-atop';
    const cx = x.getPixelForValue(core.centre[0]), cy = y.getPixelForValue(core.centre[1]);
    for (let t = 0; t < 1; t += 0.008) {
      const rx = Math.abs(x.getPixelForValue(core.centre[0] + contourAt(core.rx, t)) - cx);
      const ry = Math.abs(y.getPixelForValue(core.centre[1] + contourAt(core.ry, t)) - cy);
      ctx.fillStyle = colourAt(t);
      ctx.beginPath();
      ctx.ellipse(cx, cy, rx, ry, 0, 0, Math.PI * 2);
      ctx.fill();
    }
    ctx.restore();
  }
};

// R2, fit equation and panel tag, placed in data coordinates
const textPlugin = {
  id: 'panelText',
  afterDatasetsDraw(chart, args, opts) {
    const { ctx, scales: { x, y } } = chart;
    ctx.save();
    ctx.fillStyle = '#000';
    ctx.textBaseline = 'alphabetic';
    ctx.textAlign = 'left';
    const tx = x.getPixelForValue(opts.textX);
    const ry = y.getPixelForValue(opts.r2Y);
    ctx.font = 'bold 52px ' + SANS;
    ctx.fillText('R', tx, ry);
    const rw = ctx.measureText('R').width;
    ctx.font = 'bold 33px ' + SANS;
    ctx.fillText('2', tx + rw, ry - 25);
    const sw = ctx.measureText('2').width;
    ctx.font = 'bold 52px ' + SANS;
    ctx.fillText(opts.labels.r2, tx + rw + sw, ry);
    ctx.fillText(opts.labels.fit, tx, y.getPixelForValue(opts.fitY));
    ctx.font = 'bold 60px ' + SERIF;
    ctx.fillText(opts.labels.tag, x.getPixelForValue(opts.tagX), y.getPixelForValue(opts.tagY));
    ctx.restore();
  }
};

function addCanvas(left, width) {
  const c = document.createElement('canvas');
  c.width = width;
  c.height = 1095;
  c.style.left = left + 'px';
  c.style.width = width + 'px';
  c.style.height = '1095px';
  page.appendChild(c);
  return c;
}

function createPanel(p) {
  const left = p.titleCentre - 35;
  const width = p.right + 36 - left;
  const core = { centre: p.centre, rx: p.rx, ry: p.ry };
  return new Chart(addCanvas(left, width), {
    type: 'scatter',
    data: {
      datasets: [
        { label: 'dots', data: asPoints(p.dots), order: 2, pointRadius: 4.5, pointBorderWidth: 0, pointBackgroundColor: DOT },
        { label: 'holes', data: asPoints(p.holes), order: 1, pointRadius: 3.5, pointBorderWidth: 0, pointBackgroundColor: '#fff' },
        { label: 'cloud', data: asPoints(p.cloud.concat([p.cloud[0]])), order: 3, showLine: true, fill: 'shape', pointRadius: 0,
          borderColor: DOT, borderWidth: 11, borderDash: [0.1, 11], borderCapStyle: 'round', backgroundColor: DOT, tension: 0 },
        { label: 'fit', data: asPoints(p.fit), order: 0, showLine: true, pointRadius: 0,
          borderColor: '#ff0000', borderWidth: 12, borderCapStyle: p.cap, tension: 0 }
      ]
    },
    options: {
      responsive: false,
      animation: false,
      devicePixelRatio: 1,
      events: [],
      layout: { padding: { left: 0, right: width - (p.right - left), top: p.top, bottom: 0 } },
      plugins: {
        legend: { display: false },
        tooltip: { enabled: false },
        core: { core },
        panelText: { labels: p.labels, textX: p.textX, r2Y: p.r2Y, fitY: p.fitY, tagX: p.tagX, tagY: p.tagY }
      },
      scales: {
        x: {
          type: 'linear', min: -5, max: 2,
          afterBuildTicks(s) { s.ticks = xTicks.map(v => ({ value: v })); },
          afterFit(s) {
            s.height = 1095 - p.bottom;
            s.paddingLeft = s.paddingRight = 0;
          },
          grid: { display: false },
          border: { display: false },
          ticks: { padding: 17, color: INK, maxRotation: 0, minRotation: 0, autoSkip: false,
            font: { family: SERIF, weight: 'bold', size: 52 }, callback: tickText },
          title: { display: true, text: 'OFM deformation(m)', color: INK, padding: { top: 0, bottom: 11 },
            font: { family: SERIF, weight: 'bold', size: 58 } }
        },
        y: {
          type: 'linear', min: p.yTicks[0], max: p.yTicks[p.yTicks.length - 1],
          afterBuildTicks(s) { s.ticks = p.yTicks.map(v => ({ value: v })); },
          afterFit(s) {
            s.width = p.left - left;
            s.paddingTop = s.paddingBottom = 0;
          },
          grid: { display: false },
          border: { display: false },
          ticks: { padding: 18, color: INK, autoSkip: false,
            font: { family: SERIF, weight: 'bold', size: 52 }, callback: tickText },
          title: { display: true, text: p.yTitle, color: INK, padding: { top: 0, bottom: 0 },
            font: { family: SERIF, weight: 'bold', size: 58 } }
        }
      }
    },
    plugins: [corePlugin, textPlugin, framePlugin]
  });
}

// Small ticks on the right edge of a colour bar
const barTickPlugin = {
  id: 'barTicks',
  afterDraw(chart) {
    const { ctx, chartArea: a, scales: { y } } = chart;
    ctx.save();
    ctx.strokeStyle = '#444';
    ctx.lineWidth = 2;
    barTicks.slice(1, -1).forEach(v => {
      const py = y.getPixelForValue(v);
      ctx.beginPath();
      ctx.moveTo(a.right - 6, py);
      ctx.lineTo(a.right, py);
      ctx.stroke();
    });
    ctx.restore();
  }
};

function createColourBar(b) {
  const width = 170;
  const barWidth = b.right - b.left;
  return new Chart(addCanvas(b.left, width), {
    type: 'bar',
    data: {
      labels: ['density'],
      datasets: [{
        data: [[0, 1]],
        barPercentage: 1,
        categoryPercentage: 1,
        borderWidth: 2,
        borderColor: '#777',
        borderSkipped: false,
        backgroundColor(ctx) {
          const a = ctx.chart.chartArea;
          if (!a) return DOT;
          const g = ctx.chart.ctx.createLinearGradient(0, a.bottom, 0, a.top);
          barStops.forEach((s, i) => g.addColorStop(s, barColors[i]));
          return g;
        }
      }]
    },
    options: {
      responsive: false,
      animation: false,
      devicePixelRatio: 1,
      events: [],
      layout: { padding: { left: 1, right: 0, top: b.top, bottom: 1095 - b.bottom } },
      plugins: { legend: { display: false }, tooltip: { enabled: false } },
      scales: {
        x: { display: false },
        y: {
          position: 'right', min: 0, max: 1,
          afterBuildTicks(s) { s.ticks = barTicks.map(v => ({ value: v })); },
          afterFit(s) {
            s.width = width - barWidth - 1;
            s.paddingTop = s.paddingBottom = 0;
          },
          grid: { display: false },
          border: { display: false },
          ticks: { padding: 18, color: INK, autoSkip: false,
            font: { family: SERIF, weight: 'bold', size: 50 }, callback: tickText }
        }
      }
    },
    plugins: [barTickPlugin]
  });
}

createPanel({ left: 171, right: 1187, top: 52, bottom: 925, titleCentre: 69, yTicks: yTicksA, yTitle: 'POT-32 deformation(m)',
  dots: dotsA, holes: holesA, cloud: cloudA, fit: fitA, cap: 'butt', centre: coreCentreA, rx: coreRxA, ry: coreRyA,
  labels: labelsA, textX: -4.465, r2Y: 3.67, fitY: 1.73, tagX: 1.15, tagY: 4.15 });
createPanel({ left: 1644, right: 2658, top: 52, bottom: 929, titleCentre: 1533, yTicks: yTicksB, yTitle: 'POT-64 deformation(m)',
  dots: dotsB, holes: holesB, cloud: cloudB, fit: fitB, cap: 'round', centre: coreCentreB, rx: coreRxB, ry: coreRyB,
  labels: labelsB, textX: -4.08, r2Y: 0.78, fitY: -0.18, tagX: 1.15, tagY: 1.41 });
createPanel({ left: 3115, right: 4129, top: 52, bottom: 925, titleCentre: 3003, yTicks: yTicksC, yTitle: 'POT-128 deformation(m)',
  dots: dotsC, holes: holesC, cloud: cloudC, fit: fitC, cap: 'butt', centre: coreCentreC, rx: coreRxC, ry: coreRyC,
  labels: labelsC, textX: -3.975, r2Y: 0.77, fitY: -0.18, tagX: 1.34, tagY: 1.41 });

createColourBar({ left: 1227, right: 1281, top: 51, bottom: 925 });
createColourBar({ left: 2698, right: 2754, top: 51, bottom: 925 });
createColourBar({ left: 4170, right: 4224, top: 51, bottom: 925 });
</script>
</body>
</html>
